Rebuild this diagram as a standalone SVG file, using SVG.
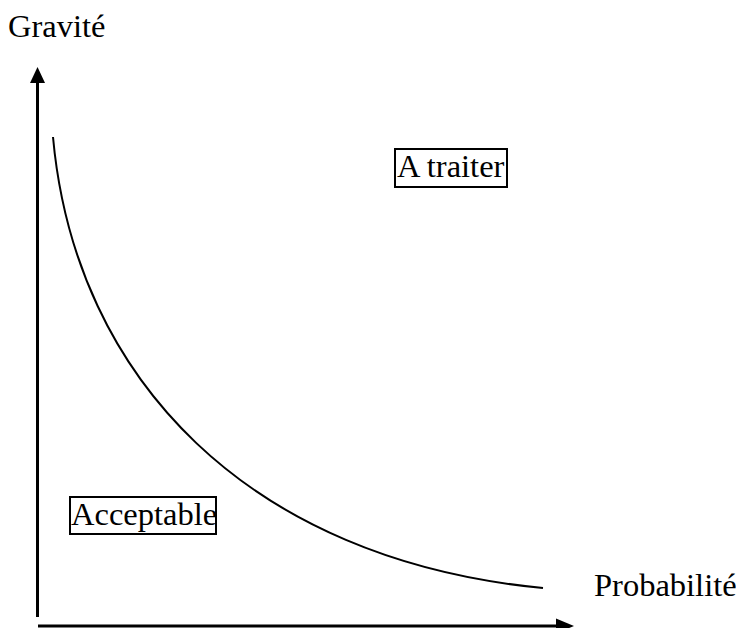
<svg xmlns="http://www.w3.org/2000/svg" width="736" height="628" viewBox="0 0 736 628">
<style>
.t{font-family:"Liberation Serif","Times New Roman",serif;font-size:32.5px;fill:#000}
.box{fill:none;stroke:#000;stroke-width:2}
.ax{stroke:#000;stroke-width:3;fill:none}
</style>
<rect width="736" height="628" fill="#fff"/>
<g id="connectors">
<line class="ax" x1="37.5" y1="617" x2="37.5" y2="80"/>
<polygon points="37.5,67 30,83 45,83" fill="#000"/>
<line class="ax" x1="38" y1="626" x2="558" y2="626"/>
<polygon points="574,626 556,618.5 556,633.5" fill="#000"/>
<path d="M53,137 C75,380 250,560 543,588" fill="none" stroke="#000" stroke-width="2"/>
</g>
<g id="label-gravite"><text class="t" x="8" y="37">Gravité</text></g>
<g id="label-probabilite"><text class="t" x="594" y="596">Probabilité</text></g>
<g id="node-traiter">
<rect class="box" x="395" y="149" width="112" height="38"/>
<text class="t" x="397" y="177">A traiter</text>
</g>
<g id="node-acceptable">
<rect class="box" x="70" y="497" width="146" height="37"/>
<text class="t" x="71" y="525">Acceptable</text>
</g>
</svg>
